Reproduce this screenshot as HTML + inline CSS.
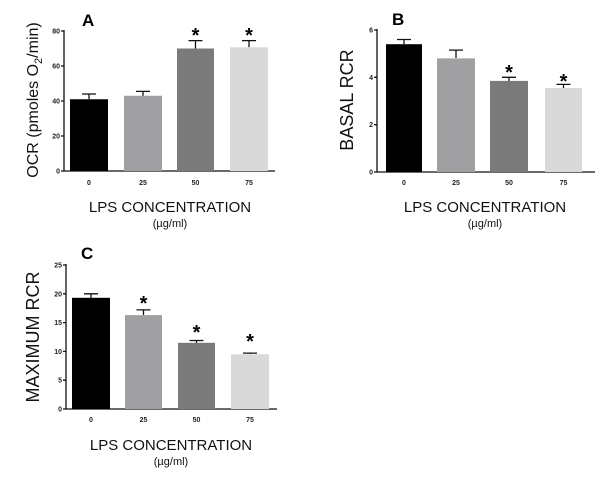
<!DOCTYPE html>
<html><head><meta charset="utf-8"><style>
body{margin:0;background:#fff}
svg{display:block;font-family:"Liberation Sans",Arial,sans-serif}
.t{font-size:7px;font-weight:bold;fill:#222}
.x{font-size:15px;fill:#111}
.u{font-size:11px;fill:#111}
.yl{font-size:16px;fill:#111}
.p{font-size:17px;font-weight:bold}
.s{font-size:20px;font-weight:bold}
</style></head><body>
<svg width="608" height="485" viewBox="0 0 608 485">
<g stroke="#111" stroke-width="1.3" fill="none">
<path d="M64 30V171H275"/>
<path d="M61 31H64M61 66H64M61 101H64M61 136H64M61 171H64"/>
<path d="M377 29V172H595"/>
<path d="M374 30H377M374 77.3H377M374 124.7H377M374 172H377"/>
<path d="M66 264V409H277"/>
<path d="M63 265H66M63 293.8H66M63 322.6H66M63 351.4H66M63 380.2H66M63 409H66"/>
<path d="M89 99V94M82 94H96M143 96V91.4M136 91.4H150M195.5 48.5V40.6M188.5 40.6H202.5M249 47.3V40.6M242 40.6H256"/>
<path d="M404 44V39.5M397 39.5H411M456 58V50.1M449 50.1H463M509 81V77.3M502 77.3H516M563.5 88V84.4M556.5 84.4H570.5"/>
<path d="M91 298V293.8M84 293.8H98M143.5 315V309.9M136.5 309.9H150.5M196.5 343V340.5M189.5 340.5H203.5M250 354V353.1M243 353.1H257"/>
</g>
<rect x="70" y="99.25" width="38" height="71.75" fill="#000"/>
<rect x="124" y="95.75" width="38" height="75.25" fill="#a0a0a3"/>
<rect x="177" y="48.5" width="37" height="122.5" fill="#7a7a7a"/>
<rect x="230" y="47.3" width="38" height="123.7" fill="#d9d9d9"/>
<rect x="386" y="44.2" width="36" height="127.8" fill="#000"/>
<rect x="437" y="58.4" width="38" height="113.6" fill="#a0a0a3"/>
<rect x="490" y="80.9" width="38" height="91.1" fill="#7a7a7a"/>
<rect x="545" y="88" width="37" height="84" fill="#d9d9d9"/>
<rect x="72" y="297.8" width="38" height="111.2" fill="#000"/>
<rect x="125" y="315.1" width="37" height="93.9" fill="#a0a0a3"/>
<rect x="178" y="342.8" width="37" height="66.2" fill="#7a7a7a"/>
<rect x="231" y="354.3" width="38" height="54.7" fill="#d9d9d9"/>
<g class="t" text-anchor="end">
<text x="60" y="33.5">80</text><text x="60" y="68.5">60</text><text x="60" y="103.5">40</text><text x="60" y="138.5">20</text><text x="60" y="173.5">0</text>
<text x="373" y="32.5">6</text><text x="373" y="79.8">4</text><text x="373" y="127.2">2</text><text x="373" y="174.5">0</text>
<text x="62" y="267.5">25</text><text x="62" y="296.3">20</text><text x="62" y="325.1">15</text><text x="62" y="353.9">10</text><text x="62" y="382.7">5</text><text x="62" y="411.5">0</text>
</g>
<g class="t" text-anchor="middle">
<text x="89" y="185">0</text><text x="143" y="185">25</text><text x="195.5" y="185">50</text><text x="249" y="185">75</text>
<text x="404" y="185">0</text><text x="456" y="185">25</text><text x="509" y="185">50</text><text x="563.5" y="185">75</text>
<text x="91" y="422">0</text><text x="143.5" y="422">25</text><text x="196.5" y="422">50</text><text x="250" y="422">75</text>
</g>
<g text-anchor="middle">
<text class="x" x="170" y="212">LPS CONCENTRATION</text><text class="u" x="170" y="227">(µg/ml)</text>
<text class="x" x="485" y="212">LPS CONCENTRATION</text><text class="u" x="485" y="227">(µg/ml)</text>
<text class="x" x="171" y="450">LPS CONCENTRATION</text><text class="u" x="171" y="465">(µg/ml)</text>
<text class="yl" transform="translate(38,100) rotate(-90)">OCR (pmoles O<tspan font-size="11" dy="4">2</tspan><tspan dy="-4">/min)</tspan></text>
<text class="yl" transform="translate(353,100) rotate(-90)" style="font-size:18px">BASAL RCR</text>
<text class="yl" transform="translate(39,337) rotate(-90)" style="font-size:18px">MAXIMUM RCR</text>
<g class="s"><text x="195.5" y="42">*</text><text x="249" y="42">*</text>
<text x="509" y="79">*</text><text x="563.5" y="88">*</text>
<text x="143.5" y="310">*</text><text x="196.5" y="339">*</text><text x="250" y="348">*</text></g>
</g>
<text class="p" x="82" y="26">A</text>
<text class="p" x="392" y="25">B</text>
<text class="p" x="81" y="259">C</text>
</svg>
</body></html>
